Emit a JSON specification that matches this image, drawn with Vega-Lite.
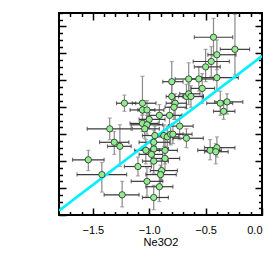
{
  "$schema": "https://vega.github.io/schema/vega-lite/v6.json",
  "width": 203,
  "height": 202,
  "autosize": "none",
  "padding": {"left": 59, "top": 13, "right": 13, "bottom": 60},
  "background": "white",
  "config": {
    "view": {"stroke": "black", "strokeWidth": 2},
    "axis": {"grid": false, "domain": false, "tickColor": "black", "tickWidth": 1.5, "labelFont": "Liberation Sans", "labelFontSize": 11, "labelColor": "black", "titleFont": "Liberation Sans", "titleFontSize": 11, "titleFontWeight": "normal", "titleColor": "black"}
  },
  "datasets": {
    "pts": [
      {"x": -0.43, "xlo": -0.60, "xhi": -0.26, "y": 0.32, "ylo": 0.18, "yhi": 0.46},
      {"x": -0.24, "xlo": -0.37, "xhi": -0.11, "y": 0.23, "ylo": 0.04, "yhi": 0.49},
      {"x": -0.40, "xlo": -0.48, "xhi": -0.23, "y": 0.19, "ylo": 0.08, "yhi": 0.30},
      {"x": -0.45, "xlo": -0.61, "xhi": -0.29, "y": 0.14, "ylo": 0.03, "yhi": 0.25},
      {"x": -0.50, "xlo": -0.60, "xhi": -0.37, "y": 0.10, "ylo": -0.01, "yhi": 0.23},
      {"x": -0.40, "xlo": -0.54, "xhi": -0.21, "y": 0.02, "ylo": -0.08, "yhi": 0.14},
      {"x": -0.56, "xlo": -0.67, "xhi": -0.43, "y": 0.01, "ylo": -0.08, "yhi": 0.10},
      {"x": -0.65, "xlo": -0.77, "xhi": -0.54, "y": 0.01, "ylo": -0.12, "yhi": 0.13},
      {"x": -0.53, "xlo": -0.63, "xhi": -0.42, "y": -0.06, "ylo": -0.17, "yhi": 0.05},
      {"x": -0.80, "xlo": -0.88, "xhi": -0.70, "y": -0.01, "ylo": -0.17, "yhi": 0.14},
      {"x": -0.80, "xlo": -0.85, "xhi": -0.70, "y": -0.12, "ylo": -0.20, "yhi": -0.03},
      {"x": -0.67, "xlo": -0.74, "xhi": -0.52, "y": -0.12, "ylo": -0.21, "yhi": -0.03},
      {"x": -0.65, "xlo": -0.73, "xhi": -0.55, "y": -0.10, "ylo": -0.18, "yhi": -0.02},
      {"x": -0.63, "xlo": -0.70, "xhi": -0.52, "y": -0.12, "ylo": -0.20, "yhi": -0.04},
      {"x": -0.37, "xlo": -0.49, "xhi": -0.26, "y": -0.17, "ylo": -0.26, "yhi": -0.08},
      {"x": -0.31, "xlo": -0.42, "xhi": -0.17, "y": -0.16, "ylo": -0.25, "yhi": -0.10},
      {"x": -0.34, "xlo": -0.43, "xhi": -0.24, "y": -0.23, "ylo": -0.29, "yhi": -0.15},
      {"x": -1.22, "xlo": -1.29, "xhi": -1.12, "y": -0.17, "ylo": -0.23, "yhi": -0.11},
      {"x": -1.06, "xlo": -1.15, "xhi": -0.94, "y": -0.17, "ylo": -0.26, "yhi": 0.03},
      {"x": -1.06, "xlo": -1.17, "xhi": -0.95, "y": -0.22, "ylo": -0.29, "yhi": -0.15},
      {"x": -1.02, "xlo": -1.10, "xhi": -0.87, "y": -0.22, "ylo": -0.29, "yhi": -0.15},
      {"x": -0.77, "xlo": -0.85, "xhi": -0.67, "y": -0.17, "ylo": -0.29, "yhi": -0.10},
      {"x": -0.78, "xlo": -0.86, "xhi": -0.67, "y": -0.20, "ylo": -0.29, "yhi": -0.13},
      {"x": -0.91, "xlo": -1.00, "xhi": -0.79, "y": -0.26, "ylo": -0.33, "yhi": -0.18},
      {"x": -0.82, "xlo": -0.92, "xhi": -0.71, "y": -0.26, "ylo": -0.34, "yhi": -0.20},
      {"x": -1.00, "xlo": -1.09, "xhi": -0.86, "y": -0.29, "ylo": -0.36, "yhi": -0.24},
      {"x": -1.06, "xlo": -1.17, "xhi": -0.92, "y": -0.32, "ylo": -0.38, "yhi": -0.25},
      {"x": -1.02, "xlo": -1.16, "xhi": -0.88, "y": -0.33, "ylo": -0.40, "yhi": -0.26},
      {"x": -1.04, "xlo": -1.15, "xhi": -0.91, "y": -0.36, "ylo": -0.43, "yhi": -0.29},
      {"x": -0.73, "xlo": -0.83, "xhi": -0.61, "y": -0.34, "ylo": -0.44, "yhi": -0.26},
      {"x": -1.35, "xlo": -1.55, "xhi": -1.16, "y": -0.36, "ylo": -0.44, "yhi": -0.28},
      {"x": -0.87, "xlo": -0.97, "xhi": -0.78, "y": -0.41, "ylo": -0.49, "yhi": -0.33},
      {"x": -0.84, "xlo": -0.95, "xhi": -0.74, "y": -0.42, "ylo": -0.50, "yhi": -0.34},
      {"x": -0.81, "xlo": -0.90, "xhi": -0.70, "y": -0.40, "ylo": -0.48, "yhi": -0.33},
      {"x": -0.79, "xlo": -0.87, "xhi": -0.62, "y": -0.40, "ylo": -0.47, "yhi": -0.32},
      {"x": -0.95, "xlo": -1.06, "xhi": -0.84, "y": -0.41, "ylo": -0.49, "yhi": -0.34},
      {"x": -0.67, "xlo": -0.79, "xhi": -0.52, "y": -0.43, "ylo": -0.50, "yhi": -0.36},
      {"x": -0.96, "xlo": -1.09, "xhi": -0.82, "y": -0.46, "ylo": -0.53, "yhi": -0.37},
      {"x": -1.31, "xlo": -1.44, "xhi": -1.18, "y": -0.46, "ylo": -0.55, "yhi": -0.38},
      {"x": -1.26, "xlo": -1.37, "xhi": -1.16, "y": -0.49, "ylo": -0.64, "yhi": -0.33},
      {"x": -1.03, "xlo": -1.13, "xhi": -0.91, "y": -0.52, "ylo": -0.62, "yhi": -0.44},
      {"x": -0.96, "xlo": -1.07, "xhi": -0.83, "y": -0.51, "ylo": -0.58, "yhi": -0.44},
      {"x": -0.86, "xlo": -0.97, "xhi": -0.75, "y": -0.52, "ylo": -0.62, "yhi": -0.44},
      {"x": -0.98, "xlo": -1.09, "xhi": -0.88, "y": -0.55, "ylo": -0.62, "yhi": -0.47},
      {"x": -0.46, "xlo": -0.57, "xhi": -0.36, "y": -0.52, "ylo": -0.59, "yhi": -0.44},
      {"x": -0.40, "xlo": -0.51, "xhi": -0.24, "y": -0.50, "ylo": -0.57, "yhi": -0.42},
      {"x": -0.41, "xlo": -0.51, "xhi": -0.30, "y": -0.53, "ylo": -0.62, "yhi": -0.47},
      {"x": -0.86, "xlo": -0.98, "xhi": -0.73, "y": -0.58, "ylo": -0.67, "yhi": -0.49},
      {"x": -0.96, "xlo": -1.06, "xhi": -0.83, "y": -0.60, "ylo": -0.69, "yhi": -0.52},
      {"x": -1.54, "xlo": -1.68, "xhi": -1.40, "y": -0.59, "ylo": -0.67, "yhi": -0.52},
      {"x": -1.10, "xlo": -1.22, "xhi": -0.98, "y": -0.64, "ylo": -0.71, "yhi": -0.57},
      {"x": -1.42, "xlo": -1.64, "xhi": -1.20, "y": -0.70, "ylo": -0.83, "yhi": -0.61},
      {"x": -0.89, "xlo": -0.99, "xhi": -0.75, "y": -0.67, "ylo": -0.75, "yhi": -0.59},
      {"x": -0.90, "xlo": -1.03, "xhi": -0.76, "y": -0.70, "ylo": -0.78, "yhi": -0.63},
      {"x": -1.02, "xlo": -1.16, "xhi": -0.88, "y": -0.75, "ylo": -0.86, "yhi": -0.65},
      {"x": -0.91, "xlo": -1.03, "xhi": -0.79, "y": -0.79, "ylo": -0.90, "yhi": -0.68},
      {"x": -1.24, "xlo": -1.40, "xhi": -1.09, "y": -0.85, "ylo": -0.94, "yhi": -0.75},
      {"x": -0.96, "xlo": -1.06, "xhi": -0.83, "y": -0.87, "ylo": -0.96, "yhi": -0.78}
    ],
    "fit": [
      {"x": -1.8, "y": -0.968},
      {"x": 0.0, "y": 0.18}
    ]
  },
  "layer": [
    {
      "data": {"name": "pts"},
      "mark": {"type": "errorbar", "ticks": true, "color": "#8a8a8a", "thickness": 1.2, "size": 4},
      "encoding": {
        "x": {"field": "x", "type": "quantitative", "scale": {"domain": [-1.8, 0], "nice": false, "zero": false},
          "axis": {"orient": "bottom", "values": [-1.7,-1.6,-1.4,-1.3,-1.2,-1.1,-0.9,-0.8,-0.7,-0.6,-0.4,-0.3,-0.2,-0.1], "labels": false, "tickSize": -3.5, "title": null}},
        "y": {"field": "ylo", "type": "quantitative", "scale": {"domain": [-1, 0.5], "nice": false, "zero": false},
          "axis": {"orient": "left", "values": [-0.95,-0.9,-0.85,-0.75,-0.7,-0.65,-0.55,-0.5,-0.45,-0.35,-0.3,-0.25,-0.15,-0.1,-0.05,0.05,0.1,0.15,0.25,0.3,0.35,0.45,0.5], "labels": false, "tickSize": -3.5, "title": null}},
        "y2": {"field": "yhi"}
      }
    },
    {
      "data": {"name": "pts"},
      "mark": {"type": "errorbar", "ticks": true, "color": "#3a3a3a", "thickness": 1.2, "size": 4},
      "encoding": {
        "x": {"field": "xlo", "type": "quantitative", "scale": {"domain": [-1.8, 0], "nice": false, "zero": false},
          "axis": {"orient": "bottom", "values": [-1.5, -1.0, -0.5, 0.0], "format": ".1f", "tickSize": -7, "labelPadding": 16, "title": "Ne3O2", "titlePadding": 1}},
        "x2": {"field": "xhi"},
        "y": {"field": "y", "type": "quantitative", "scale": {"domain": [-1, 0.5], "nice": false, "zero": false},
          "axis": {"orient": "left", "values": [-1.0,-0.8,-0.6,-0.4,-0.2,0.0,0.2,0.4], "labels": false, "tickSize": -7, "title": null}}
      }
    },
    {
      "data": {"name": "fit"},
      "mark": {"type": "line", "color": "#00F0FF", "strokeWidth": 2.5, "clip": true},
      "encoding": {
        "x": {"field": "x", "type": "quantitative", "scale": {"domain": [-1.8, 0], "nice": false, "zero": false},
          "axis": {"orient": "top", "values": [-1.7,-1.6,-1.4,-1.3,-1.2,-1.1,-0.9,-0.8,-0.7,-0.6,-0.4,-0.3,-0.2,-0.1], "labels": false, "tickSize": -3.5, "title": null}},
        "y": {"field": "y", "type": "quantitative", "scale": {"domain": [-1, 0.5], "nice": false, "zero": false},
          "axis": {"orient": "right", "values": [-0.95,-0.9,-0.85,-0.75,-0.7,-0.65,-0.55,-0.5,-0.45,-0.35,-0.3,-0.25,-0.15,-0.1,-0.05,0.05,0.1,0.15,0.25,0.3,0.35,0.45,0.5], "labels": false, "tickSize": -3.5, "title": null}}
      }
    },
    {
      "data": {"name": "pts"},
      "mark": {"type": "point", "filled": true, "fill": "#90EE90", "stroke": "#2a2a2a", "strokeWidth": 0.8, "size": 40, "opacity": 1},
      "encoding": {
        "x": {"field": "x", "type": "quantitative", "scale": {"domain": [-1.8, 0], "nice": false, "zero": false},
          "axis": {"orient": "top", "values": [-1.5, -1.0, -0.5], "labels": false, "tickSize": -7, "title": null}},
        "y": {"field": "y", "type": "quantitative", "scale": {"domain": [-1, 0.5], "nice": false, "zero": false},
          "axis": {"orient": "right", "values": [-0.8,-0.6,-0.4,-0.2,0.0,0.2,0.4], "labels": false, "tickSize": -7, "title": null}}
      }
    }
  ],
  "resolve": {"axis": {"x": "independent", "y": "independent"}}
}
